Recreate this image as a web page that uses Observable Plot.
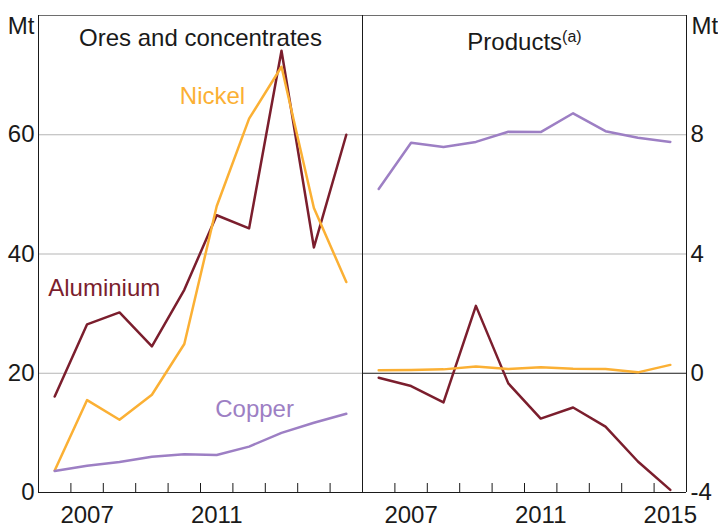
<!DOCTYPE html>
<html>
<head>
<meta charset="utf-8">
<script src="https://cdn.jsdelivr.net/npm/d3@7"></script>
<script src="https://cdn.jsdelivr.net/npm/@observablehq/plot@0.6"></script>
<style>
  html, body { margin: 0; padding: 0; background: #fff; }
  #chart { position: relative; width: 718px; height: 526px; background: #fff; }
  #chart svg { position: absolute; top: 0; }
</style>
</head>
<body>
<div id="chart"></div>
<script>
// ---- Data ----
const years = [2006, 2007, 2008, 2009, 2010, 2011, 2012, 2013, 2014, 2015];

const oresAluminium = [16.1, 28.2, 30.2, 24.5, 34.0, 46.5, 44.3, 74.1, 41.1, 60.0];
const oresNickel    = [3.7, 15.5, 12.2, 16.4, 24.9, 48.0, 62.7, 71.4, 47.7, 35.3];
const oresCopper    = [3.6, 4.5, 5.1, 6.0, 6.4, 6.3, 7.7, 10.0, 11.7, 13.2];

const prodAluminium = [-0.15, -0.43, -0.98, 2.26, -0.34, -1.52, -1.15, -1.79, -2.96, -3.91];
const prodNickel    = [0.10, 0.11, 0.13, 0.23, 0.14, 0.20, 0.15, 0.14, 0.03, 0.28];
const prodCopper    = [6.18, 7.73, 7.59, 7.76, 8.10, 8.09, 8.72, 8.12, 7.90, 7.76];

const seriesNames = ["Aluminium", "Nickel", "Copper"];
const seriesColors = ["#7b1e2d", "#fbb034", "#9d7fc4"];

const leftTitle = "Ores and concentrates";
const rightTitle = "Products";
const rightTitleNote = "(a)";
const unitLabel = "Mt";

const leftYTicks = [0, 20, 40, 60];
const rightYTicks = [-4, 0, 4, 8];
const leftYearLabels = ["2007", "2011"];
const rightYearLabels = ["2007", "2011", "2015"];
const yearTicks = [2007, 2008, 2009, 2010, 2011, 2012, 2013, 2014, 2015];

const labelNames = ["Nickel", "Aluminium", "Copper"];
const labelYears = [2011.37, 2008.03, 2012.67];
const labelValues = [66.4, 34.2, 14.0];

// ---- Build tables ----
const rows = (vals, name) => years.map((y, i) => ({year: y, value: vals[i], series: name}));
const oresRows = [
  ...rows(oresAluminium, "Aluminium"),
  ...rows(oresNickel, "Nickel"),
  ...rows(oresCopper, "Copper")
];
const prodRows = [
  ...rows(prodAluminium, "Aluminium"),
  ...rows(prodNickel, "Nickel"),
  ...rows(prodCopper, "Copper")
];
const seriesLabels = labelNames.map((n, i) => ({name: n, year: labelYears[i], value: labelValues[i]}));

const FONT = "'Liberation Sans', Arial, Helvetica, sans-serif";
const FS = 24;
const H = 526, MT = 15, MB = 34;
const innerH = H - MT - MB;
const xDomain = [2006, 2016];
const colorScale = {domain: seriesNames, range: seriesColors};
const style = {fontFamily: FONT, fontSize: FS + "px", color: "#1a1a1a", background: "transparent", overflow: "visible"};

// ---- Left panel ----
const left = Plot.plot({
  width: 362, height: H,
  marginLeft: 38, marginRight: 0, marginTop: MT, marginBottom: MB,
  style,
  x: {domain: xDomain},
  y: {domain: [0, 80]},
  color: colorScale,
  marks: [
    Plot.ruleY(leftYTicks.filter(d => d !== 0), {stroke: "#b5b5b5", strokeWidth: 1}),
    Plot.ruleY([80], {stroke: "#6e6e6e", strokeWidth: 1}),
    Plot.ruleX(yearTicks, {stroke: "#1a1a1a", strokeWidth: 1, insetTop: innerH - 9}),
    Plot.line(oresRows, {x: d => d.year + 0.5, y: "value", z: "series", stroke: "series", strokeWidth: 2.5}),
    Plot.ruleX([2006, 2016], {stroke: "#1a1a1a", strokeWidth: 1}),
    Plot.ruleY([0], {stroke: "#1a1a1a", strokeWidth: 1}),
    Plot.axisY(leftYTicks, {tickSize: 0, tickPadding: 4, label: null, tickFormat: d => String(d)}),
    Plot.axisX(leftYearLabels.map(d => +d + 0.5), {tickSize: 0, tickPadding: 13, label: null, tickFormat: d => String(Math.floor(d))}),
    Plot.text(seriesLabels, {x: "year", y: "value", text: "name", fill: "name", fontSize: FS, lineAnchor: "middle"}),
    Plot.text([leftTitle], {frameAnchor: "top", dy: 23, lineAnchor: "middle", fontSize: FS, fill: "#1a1a1a"}),
    Plot.text([unitLabel], {frameAnchor: "top-left", textAnchor: "end", dx: -4, dy: 11, lineAnchor: "middle", fontSize: FS, fill: "#1a1a1a"})
  ]
});

// ---- Right panel ----
const right = Plot.plot({
  width: 356, height: H,
  marginLeft: 0, marginRight: 32, marginTop: MT, marginBottom: MB,
  style,
  x: {domain: xDomain},
  y: {domain: [-4, 12]},
  color: colorScale,
  marks: [
    Plot.ruleY(rightYTicks.filter(d => d > 0), {stroke: "#b5b5b5", strokeWidth: 1}),
    Plot.ruleY([12], {stroke: "#6e6e6e", strokeWidth: 1}),
    Plot.ruleX(yearTicks, {stroke: "#1a1a1a", strokeWidth: 1, insetTop: innerH - 9}),
    Plot.ruleY([0], {stroke: "#1a1a1a", strokeWidth: 1}),
    Plot.line(prodRows, {x: d => d.year + 0.5, y: "value", z: "series", stroke: "series", strokeWidth: 2.5}),
    Plot.ruleX([2006, 2016], {stroke: "#1a1a1a", strokeWidth: 1}),
    Plot.ruleY([-4], {stroke: "#1a1a1a", strokeWidth: 1}),
    Plot.axisY(rightYTicks, {anchor: "right", tickSize: 0, tickPadding: 4, label: null, tickFormat: d => String(d)}),
    Plot.axisX(rightYearLabels.map(d => +d + 0.5), {tickSize: 0, tickPadding: 13, label: null, tickFormat: d => String(Math.floor(d))}),
    Plot.text([rightTitle], {frameAnchor: "top", dy: 26.5, lineAnchor: "middle", fontSize: FS, fill: "#1a1a1a"}),
    Plot.text([unitLabel], {frameAnchor: "top-right", textAnchor: "start", dx: 5, dy: 11, lineAnchor: "middle", fontSize: FS, fill: "#1a1a1a"})
  ]
});

// superscript note on the Products title
d3.select(right).selectAll("text").filter(function() { return this.textContent === rightTitle; })
  .append("tspan").attr("dy", "-0.5em").attr("font-size", "16px").text(rightTitleNote);

left.style.left = "0px";
right.style.left = "362px";
const chart = document.getElementById("chart");
chart.appendChild(left);
chart.appendChild(right);
</script>
</body>
</html>
